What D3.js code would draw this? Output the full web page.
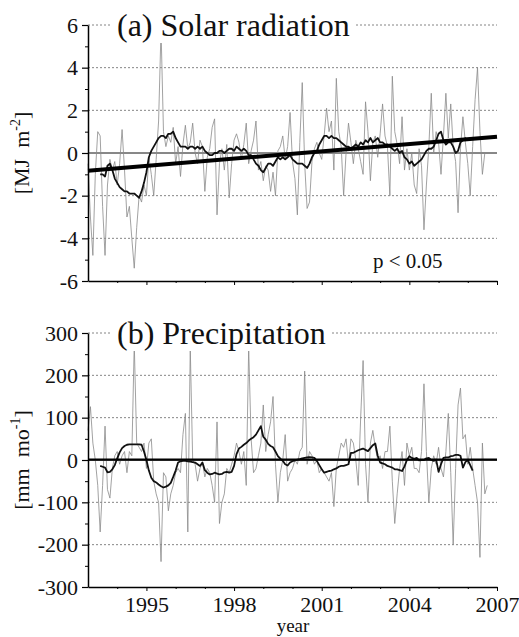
<!DOCTYPE html>
<html>
<head>
<meta charset="utf-8">
<title>Solar radiation and precipitation anomalies</title>
<script src="https://d3js.org/d3.v7.min.js"></script>
<style>
  body { margin: 0; background: #fff; }
  text { font-family: "Liberation Serif", "Times New Roman", serif; fill: #111; }
</style>
</head>
<body>
<svg id="chart" width="519" height="637"></svg>
<script>
// monthly anomalies, Jan 1993 onwards (month i -> 1993 + i/12)
var solarMonthly = [
  -0.5, -3.0, -4.8, -1.0, 1.0, 0.8, -2.5, -4.8, -1.5, -0.3, -0.8, -0.4,
  -1.5, -0.5, 1.1, -0.8, -3.0, -2.5, -4.0, -5.4, -3.5, -2.0, -2.3, -1.5,
  -2.0, -0.2, -1.0, -2.0, -0.3, 1.5, 5.8, 1.0, 0.3, 0.8, 0.5, 1.2,
  -0.5, 0.3, -1.1, 0.4, 1.3, 0.2, 0.5, 1.4, 0.0, -0.5, 0.6, 0.3,
  -1.8, -0.2, 0.2, 1.2, 1.6, -2.9, -0.5, 0.2, -0.8, 0.4, -2.1, -0.5,
  0.6, 0.9, 0.5, -0.3, 0.4, 1.4, -0.5, 0.1, 0.6, 1.5, -0.8, -0.4,
  -1.3, -0.6, -0.8, -1.8, -0.9, -2.0, 0.1, 0.3, 0.8, -0.3, 0.3, 1.9,
  -0.4, -1.2, -2.9, 0.5, 3.3, -0.5, -2.6, -2.3, -0.4, 0.2, 0.5, 0.0,
  -0.3, 0.8, 2.1, 1.0, 1.5, -0.8, 3.5, 1.0, 0.3, -2.0, 0.0, 1.4,
  0.5, -0.5, 0.6, 0.2, -0.4, -1.0, 2.4, 1.0, -1.3, 0.5, 0.8, -0.2,
  0.9, 2.3, 0.8, 0.3, -2.0, 3.6, 1.0, 0.4, -0.5, 1.7, -0.8, 0.2,
  -0.8, 0.0, -1.5, -1.9, 0.2, -0.6, -3.6, -1.5, 0.3, 2.8, 0.0, 1.0,
  0.5, -1.0, 0.8, 2.8, 0.7, 2.3, 0.3, -0.4, -2.8, 0.2, 1.7, 0.5,
  -0.5, -2.0, 0.3, 2.5, 4.0, 1.0, -1.0, 0.0
];
// 12-month running mean, starting at month 5
var solarRunStart = 5;
var solarRunMean = [
  -1.0, -1.0, -1.1, -0.6, -0.5, -0.8, -1.2, -1.4, -1.6, -1.7, -1.8, -1.8,
  -1.9, -1.9, -1.9, -2.0, -2.1, -1.8, -1.4, -0.9, -0.2, 0.1, 0.3, 0.5,
  0.7, 0.8, 0.8, 0.7, 0.9, 0.9, 1.0, 0.7, 0.5, 0.3, 0.3, 0.3,
  0.2, 0.3, 0.3, 0.2, 0.3, 0.2, 0.3, 0.1, 0.0, -0.1, -0.1, 0.0,
  0.0, 0.1, 0.1, 0.0, 0.1, 0.2, 0.2, 0.1, 0.3, 0.2, 0.1, 0.2,
  0.1, -0.1, -0.1, -0.3, -0.5, -0.6, -0.8, -0.9, -0.7, -0.5, -0.5, -0.6,
  -0.4, -0.2, -0.3, -0.2, -0.3, -0.2, -0.1, -0.3, -0.4, -0.5, -0.5, -0.5,
  -0.6, -0.7, -0.5, -0.2, 0.0, 0.1, 0.4, 0.6, 0.8, 0.8, 0.7, 0.8,
  0.7, 0.7, 0.6, 0.5, 0.4, 0.3, 0.3, 0.2, 0.3, 0.4, 0.3, 0.5,
  0.4, 0.6, 0.5, 0.7, 0.5, 0.6, 0.7, 0.5, 0.5, 0.4, 0.4, 0.3,
  0.2, 0.1, 0.2, 0.0, 0.1, -0.2, -0.3, -0.5, -0.4, -0.6, -0.5, -0.4,
  -0.3, -0.1, 0.1, 0.2, 0.2, 0.3, 0.6, 0.9, 1.0, 0.6, 0.4, 0.5,
  0.5, 0.3, 0.0, 0.1, 0.5, 0.6, 0.7, 0.6
];
var solarTrendYears = [1993, 2007];
var solarTrend = [-0.83, 0.76];

var precipMonthly = [
  70, 126, 40, 0, -60, -170, -60, 80, -70, -90, -20, 10,
  20, -10, 10, 20, -30, 20, 10, 275, 40, 30, 20, 40,
  -20, 40, 50, -50, -80, -100, -240, -30, -40, -120, -80, -60,
  -30, -20, -30, 60, 110, -170, 265, 0, -10, -50, -20, -5,
  -40, -20, -30, -60, -100, 90, -150, -100, -80, -20, -30, -10,
  10, 40, 20, -10, 20, -60, 265, 50, -30, -20, 10, 40,
  130, 20, 60, 90, 150, -10, -100, -30, 0, 60, -50, -30,
  -20, 0, -10, 20, 30, 210, -10, 20, 10, -10, 0, -30,
  -20, -30, -40, -50, -30, -110, -20, 10, 40, 30, 50, -10,
  50, 40, 0, -60, 100, 235, -10, -100, 40, 70, 30, 0,
  10, -20, 20, 20, 80, -50, -150, -80, -20, 20, -60, 40,
  10, 30, -20, -20, -30, 20, 180, 20, -100, -20, 10, -10,
  30, -20, -40, 20, 110, -30, -200, -20, 130, 170, 50, 60,
  -10, 30, -20, -60, -100, -230, 40, -80, -60
];
var precipRunStart = 5;
var precipRunMean = [
  -14, -16, -18, -29, -28, -22, -12, 4, 18, 28, 33, 36,
  37, 37, 37, 37, 37, 36, 20, 0, -25, -42, -50, -53,
  -58, -62, -65, -63, -60, -54, -40, -25, -6, -3, -2, -2,
  -3, -4, -5, -6, -10, -14, -6, -24, -30, -34, -33, -30,
  -32, -34, -33, -29, -28, -30, -28, -14, 14, 27, 31, 36,
  40, 46, 50, 54, 60, 70, 80, 55, 48, 38, 33, 30,
  20, 9, 3, -2, -10, -13, -6, -3, -1, 1, 2, 4,
  5, 6, 7, 6, 5, -2, -12, -22, -30, -28, -26, -25,
  -22, -20, -16, -14, -14, -12, -10, 17, 17, 20, 23, 25,
  27, 24, 21, 28, 35, 39, 10, -6, -8, -10, -14, -16,
  -18, -22, -22, -24, -26, -15, 0, 9, 5, 3, 5, -1,
  0, 0, 4, 5, 0, -2, 1, -28, -10, 5, 6, 6,
  9, 10, 12, 12, 10, -18, -5, 0, -12, -25
];
var precipTrendYears = [1993, 2007];
var precipTrend = [1, 1];

var yearTicks = [1995, 1998, 2001, 2004, 2007];
var yearMinor = [1994, 1996, 1997, 1999, 2000, 2002, 2003, 2005, 2006];

var serif = '"Liberation Serif", "Times New Roman", serif';
var svg = d3.select("#chart");
var x = d3.scaleLinear().domain([1993, 2007]).range([88, 497]);

function monthX(i) { return x(1993 + i / 12); }

function drawPanel(p) {
  var y = d3.scaleLinear().domain(p.domain).range([p.bottom, p.top]);
  var g = svg.append("g");

  // dotted grid
  g.selectAll("line.grid")
    .data(p.ticks.filter(function(t) { return t != 0 && t != p.domain[0]; }))
    .enter().append("line")
      .attr("class", "grid")
      .attr("x1", x(1993)).attr("x2", x(2007))
      .attr("y1", function(d) { return y(d); })
      .attr("y2", function(d) { return y(d); })
      .attr("stroke", "#666")
      .attr("stroke-width", 0.8)
      .attr("stroke-dasharray", "2,2");

  // zero line
  g.append("line")
    .attr("x1", x(1993)).attr("x2", x(2007))
    .attr("y1", y(0)).attr("y2", y(0))
    .attr("stroke", "#111")
    .attr("stroke-width", p.zeroWidth);

  // monthly values
  var monthly = d3.line()
    .x(function(d, i) { return monthX(i); })
    .y(function(d) { return y(d); });
  g.append("path")
    .datum(p.monthly)
    .attr("fill", "none")
    .attr("stroke", "#8a8a8a")
    .attr("stroke-width", 0.8)
    .attr("d", monthly);

  // running mean
  var run = d3.line()
    .x(function(d, i) { return monthX(i + p.runStart); })
    .y(function(d) { return y(d); });
  g.append("path")
    .datum(p.runMean)
    .attr("fill", "none")
    .attr("stroke", "#111")
    .attr("stroke-width", 1.8)
    .attr("stroke-linejoin", "round")
    .attr("d", run);

  // trend
  if (p.trend) {
    g.append("path")
      .datum(p.trend)
      .attr("fill", "none")
      .attr("stroke", "#000")
      .attr("stroke-width", p.trendWidth)
      .attr("d", d3.line()
        .x(function(d, i) { return x(p.trendYears[i]); })
        .y(function(d) { return y(d); }));
  }

  // left axis
  var yAxis = g.append("g")
    .attr("transform", "translate(" + x(1993) + ",0)")
    .call(d3.axisLeft(y).tickValues(p.ticks).tickSize(6).tickSizeOuter(0).tickPadding(4)
      .tickFormat(function(d) { return String(d); }));
  yAxis.attr("font-family", null).attr("font-size", null);
  yAxis.select(".domain").attr("stroke-width", 1.5);
  yAxis.selectAll(".tick line").attr("stroke-width", 1.2);
  yAxis.selectAll("text")
    .style("font-family", serif).style("font-size", "22px").style("fill", "#111");

  g.append("g")
    .attr("transform", "translate(" + x(1993) + ",0)")
    .call(d3.axisLeft(y).tickValues(p.minorTicks).tickSize(3).tickFormat(""))
    .select(".domain").remove();

  // bottom axis
  var xAxis = g.append("g")
    .attr("transform", "translate(0," + p.bottom + ")")
    .call(d3.axisBottom(x).tickValues(yearTicks).tickSize(4).tickSizeOuter(0).tickPadding(5)
      .tickFormat(p.showYears ? function(d) { return String(d); } : ""));
  xAxis.attr("font-family", null).attr("font-size", null);
  xAxis.select(".domain").attr("stroke-width", 1.5);
  xAxis.selectAll("text")
    .style("font-family", serif).style("font-size", "22px").style("fill", "#111");

  g.append("g")
    .attr("transform", "translate(0," + p.bottom + ")")
    .call(d3.axisBottom(x).tickValues(yearMinor).tickSize(2).tickFormat(""))
    .select(".domain").remove();

  // title with white box over the top grid line
  var box = g.append("rect").attr("fill", "#fff");
  var title = g.append("text")
    .attr("x", 117)
    .attr("y", p.top + 11)
    .style("font-size", "32px")
    .text(p.title);
  var bb = title.node().getBBox();
  box.attr("x", bb.x - 5).attr("y", bb.y)
    .attr("width", bb.width + 10).attr("height", bb.height);

  // y label
  var lab = g.append("text")
    .attr("transform", "translate(29," + (p.top + p.bottom) / 2 + ") rotate(-90)")
    .attr("text-anchor", "middle")
    .style("font-size", "22px")
    .style("white-space", "pre");
  lab.append("tspan").text(p.unit[0]);
  lab.append("tspan").style("font-size", "14px").attr("dy", -9).text(p.unit[1]);
  lab.append("tspan").attr("dy", 9).text("]");
  return y;
}

drawPanel({
  title: "(a) Solar radiation",
  domain: [-6, 6], top: 25, bottom: 281,
  ticks: [-6, -4, -2, 0, 2, 4, 6],
  minorTicks: [-5, -3, -1, 1, 3, 5],
  monthly: solarMonthly,
  runStart: solarRunStart, runMean: solarRunMean,
  trend: solarTrend, trendYears: solarTrendYears, trendWidth: 4,
  zeroWidth: 1,
  showYears: false,
  unit: ["[MJ  m", "-2"]
});

drawPanel({
  title: "(b) Precipitation",
  domain: [-300, 300], top: 333, bottom: 587,
  ticks: [-300, -200, -100, 0, 100, 200, 300],
  minorTicks: [-250, -150, -50, 50, 150, 250],
  monthly: precipMonthly,
  runStart: precipRunStart, runMean: precipRunMean,
  trend: precipTrend, trendYears: precipTrendYears, trendWidth: 2.2,
  zeroWidth: 1,
  showYears: true,
  unit: ["[mm  mo", "-1"]
});

svg.append("text")
  .attr("x", 373).attr("y", 268)
  .style("font-size", "21px")
  .text("p < 0.05");

svg.append("text")
  .attr("x", 293).attr("y", 632)
  .attr("text-anchor", "middle")
  .style("font-size", "19px")
  .text("year");
</script>
</body>
</html>
